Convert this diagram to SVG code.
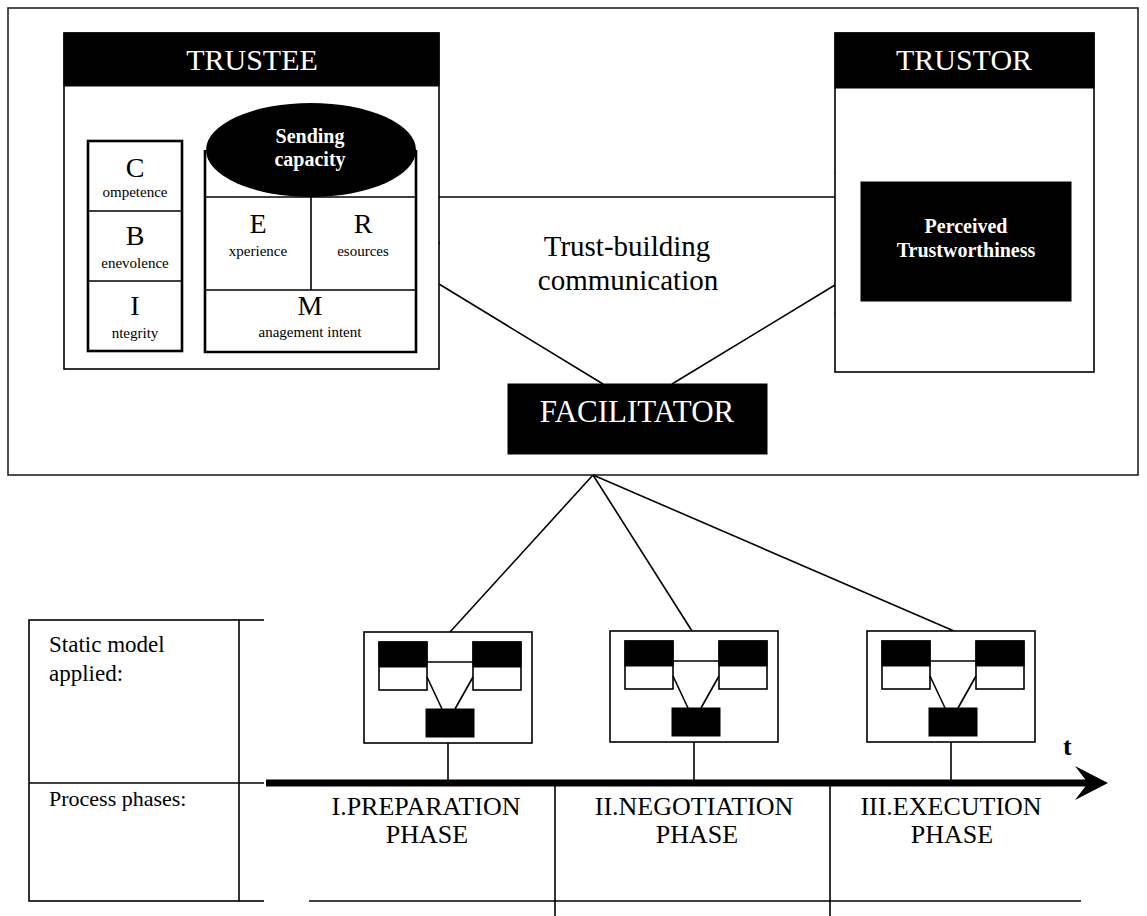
<svg xmlns="http://www.w3.org/2000/svg" width="1147" height="916" viewBox="0 0 1147 916" font-family="'Liberation Serif', 'DejaVu Serif', serif">
<style>
text{font-family:'Liberation Serif','DejaVu Serif',serif;fill:#000}
.w{fill:#fff}
.b{font-weight:bold}
.c{text-anchor:middle}
.ln{stroke:#000;stroke-width:1.6;fill:none}
.box{stroke:#000;stroke-width:1.6;fill:#fff}
.thick{stroke:#000;stroke-width:2.6;fill:#fff}
.blk{fill:#000;stroke:#000;stroke-width:1}
</style>
<rect width="1147" height="916" fill="#fff"/>
<g id="frame"><rect x="8" y="8" width="1130" height="467" fill="none" stroke="#222" stroke-width="1.6"/></g>

<g id="connectors">
<polyline class="ln" points="182,173 205,243 182,312"/>
<polyline class="ln" points="416,173 439,243 416,313"/>
<line class="ln" x1="439" y1="197" x2="835" y2="197"/>
<line class="ln" x1="439" y1="284" x2="603" y2="384"/>
<line class="ln" x1="672" y1="384" x2="835" y2="285"/>
<polyline class="ln" points="835,172 861,243 835,314"/>
<line class="ln" x1="593" y1="475" x2="450" y2="632"/>
<line class="ln" x1="593" y1="475" x2="692" y2="631"/>
<line class="ln" x1="593" y1="475" x2="954" y2="631"/>
<line class="ln" x1="448" y1="743" x2="448" y2="783"/>
<line class="ln" x1="694" y1="742" x2="694" y2="783"/>
<line class="ln" x1="951" y1="742" x2="951" y2="783"/>
</g>

<g id="trustee">
<rect class="box" x="64" y="33" width="375" height="336"/>
<rect class="blk" x="64" y="33" width="375" height="53"/>
<text class="w c" x="252" y="70" font-size="30">TRUSTEE</text>
</g>

<g id="cbi">
<rect class="thick" x="88" y="141" width="94" height="210"/>
<line class="ln" stroke-width="2.6" x1="88" y1="211" x2="182" y2="211"/>
<line class="ln" stroke-width="2.6" x1="88" y1="281" x2="182" y2="281"/>
<text class="c" x="135" y="177" font-size="28">C</text>
<text class="c" x="135" y="197" font-size="15">ompetence</text>
<text class="c" x="135" y="245" font-size="28">B</text>
<text class="c" x="135" y="268" font-size="15">enevolence</text>
<text class="c" x="135" y="315" font-size="28">I</text>
<text class="c" x="135" y="338" font-size="15">ntegrity</text>
</g>

<g id="sending-capacity">
<path d="M205,150 V352 H416 V150" fill="#fff" stroke="#000" stroke-width="2.6"/>
<line class="ln" stroke-width="2.6" x1="205" y1="197" x2="416" y2="197"/>
<line class="ln" stroke-width="2.6" x1="311" y1="197" x2="311" y2="290"/>
<line class="ln" stroke-width="2.6" x1="205" y1="290" x2="416" y2="290"/>
<ellipse cx="311" cy="150" rx="105" ry="47" fill="#000"/>
<text class="w b c" x="310" y="143" font-size="20">Sending</text>
<text class="w b c" x="310" y="166" font-size="20">capacity</text>
<text class="c" x="258" y="233" font-size="28">E</text>
<text class="c" x="258" y="256" font-size="15">xperience</text>
<text class="c" x="363" y="233" font-size="28">R</text>
<text class="c" x="363" y="256" font-size="15">esources</text>
<text class="c" x="310" y="315" font-size="28">M</text>
<text class="c" x="310" y="337" font-size="15">anagement intent</text>
</g>

<g id="communication">
<text class="c" x="627" y="256" font-size="29">Trust-building</text>
<text class="c" x="628" y="290" font-size="29">communication</text>
</g>

<g id="trustor">
<rect class="box" x="835" y="33" width="259" height="339"/>
<rect class="blk" x="835" y="33" width="259" height="55"/>
<text class="w c" x="964" y="70" font-size="30">TRUSTOR</text>
<rect class="blk" x="861" y="182" width="210" height="119"/>
<text class="w b c" x="966" y="233" font-size="20">Perceived</text>
<text class="w b c" x="966" y="257" font-size="20">Trustworthiness</text>
</g>

<g id="facilitator">
<rect class="blk" x="508" y="384" width="259" height="70"/>
<text class="w c" x="637" y="422" font-size="31">FACILITATOR</text>
</g>

<g id="table">
<rect class="box" x="29" y="620" width="210" height="281"/>
<line class="ln" x1="29" y1="783" x2="264" y2="783"/>
<line class="ln" x1="239" y1="620" x2="264" y2="620"/>
<line class="ln" x1="239" y1="901" x2="264" y2="901"/>
<text x="49" y="652" font-size="23">Static model</text>
<text x="49" y="681" font-size="23">applied:</text>
<text x="49" y="806" font-size="22">Process phases:</text>
</g>

<g id="timeline">
<line x1="266" y1="783" x2="1092" y2="783" stroke="#000" stroke-width="7"/>
<polygon points="1108,783 1075,766 1088,783 1075,800" fill="#000"/>
<text class="b" x="1063" y="755" font-size="26">t</text>
<line class="ln" x1="555" y1="783" x2="555" y2="916"/>
<line class="ln" x1="830" y1="783" x2="830" y2="916"/>
<line class="ln" x1="309" y1="901" x2="1081" y2="901"/>
</g>

<g id="phase1">
<text class="c" x="426" y="815" font-size="26">I.PREPARATION</text>
<text class="c" x="427" y="843" font-size="26">PHASE</text>
</g>
<g id="phase2">
<text class="c" x="694" y="815" font-size="26">II.NEGOTIATION</text>
<text class="c" x="697" y="843" font-size="26">PHASE</text>
</g>
<g id="phase3">
<text class="c" x="951" y="815" font-size="26">III.EXECUTION</text>
<text class="c" x="952" y="843" font-size="26">PHASE</text>
</g>

<defs>
<g id="mini">
<rect class="box" x="0" y="0" width="168" height="111"/>
<rect class="box" x="15" y="10" width="48" height="48"/>
<rect class="blk" x="15" y="10" width="48" height="25"/>
<rect class="box" x="109" y="10" width="48" height="48"/>
<rect class="blk" x="109" y="10" width="48" height="25"/>
<line class="ln" x1="63" y1="30" x2="109" y2="30"/>
<line class="ln" x1="63" y1="45" x2="78" y2="77"/>
<line class="ln" x1="109" y1="45" x2="91" y2="77"/>
<rect class="blk" x="62" y="77" width="48" height="28"/>
</g>
</defs>
<g id="model1"><use href="#mini" x="364" y="632"/></g>
<g id="model2"><use href="#mini" x="610" y="631"/></g>
<g id="model3"><use href="#mini" x="867" y="631"/></g>
</svg>
